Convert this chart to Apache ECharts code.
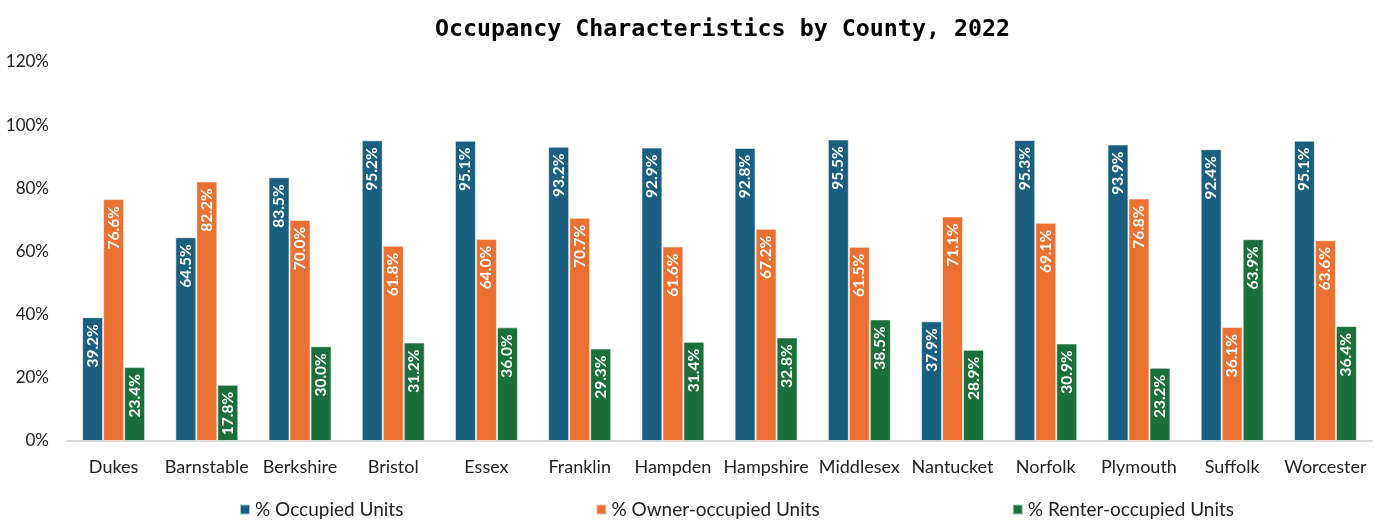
<!DOCTYPE html>
<html>
<head>
<meta charset="utf-8">
<script src="https://cdn.jsdelivr.net/npm/echarts@6/dist/echarts.min.js"></script>
<style>
  html, body { margin: 0; padding: 0; background: #fff; }
  #chart { width: 1382px; height: 521px; }
</style>
</head>
<body>
<div id="chart"></div>
<script>
// counties, in chart order
const counties = ['Dukes', 'Barnstable', 'Berkshire', 'Bristol', 'Essex', 'Franklin', 'Hampden',
  'Hampshire', 'Middlesex', 'Nantucket', 'Norfolk', 'Plymouth', 'Suffolk', 'Worcester'];
// percentages
const occupied = [39.2, 64.5, 83.5, 95.2, 95.1, 93.2, 92.9, 92.8, 95.5, 37.9, 95.3, 93.9, 92.4, 95.1];
const ownerOcc = [76.6, 82.2, 70.0, 61.8, 64.0, 70.7, 61.6, 67.2, 61.5, 71.1, 69.1, 76.8, 36.1, 63.6];
const renterOcc = [23.4, 17.8, 30.0, 31.2, 36.0, 29.3, 31.4, 32.8, 38.5, 28.9, 30.9, 23.2, 63.9, 36.4];
const seriesNames = ['% Occupied Units', '% Owner-occupied Units', '% Renter-occupied Units'];

const labelFont = 'Lato, "Open Sans", sans-serif';

function barSeries(name, data, color) {
  return {
    name: name,
    type: 'bar',
    data: data,
    barWidth: 21,
    barGap: '0%',
    itemStyle: { color: color, borderColor: 'rgba(255,255,255,0.6)', borderWidth: 1 },
    label: {
      show: true,
      position: 'insideTop',
      rotate: 90,
      align: 'right',
      verticalAlign: 'middle',
      distance: 7,
      color: '#fff',
      fontFamily: labelFont,
      fontWeight: 'bold',
      fontSize: 15.5,
      formatter: p => p.value.toFixed(1) + '%'
    }
  };
}

const chart = echarts.init(document.getElementById('chart'));
chart.setOption({
  animation: false,
  title: {
    text: 'Occupancy Characteristics by County, 2022',
    left: 430,
    top: 13,
    textStyle: {
      fontFamily: '"DejaVu Sans Mono", "Liberation Mono", monospace',
      fontWeight: 'bold',
      fontSize: 23.3,
      color: '#000'
    }
  },
  legend: {
    data: seriesNames,
    top: 495,
    left: 234,
    itemGap: 192,
    itemWidth: 10,
    itemHeight: 10,
    icon: 'rect',
    textStyle: { fontFamily: labelFont, fontSize: 19, color: '#222' }
  },
  grid: { left: 67, right: 10, top: 62, bottom: 80 },
  xAxis: {
    type: 'category',
    data: counties,
    axisLine: { lineStyle: { color: '#d9d9d9', width: 2 } },
    axisTick: { show: false },
    axisLabel: { interval: 0, fontFamily: labelFont, fontSize: 18, color: '#222', margin: 17 }
  },
  yAxis: {
    type: 'value',
    min: 0,
    max: 120,
    interval: 20,
    splitLine: { show: false },
    axisLine: { show: false },
    axisLabel: { formatter: '{value}%', fontFamily: labelFont, fontSize: 17, color: '#222', margin: 18 }
  },
  series: [
    barSeries(seriesNames[0], occupied, '#1b5f80'),
    barSeries(seriesNames[1], ownerOcc, '#eb7132'),
    barSeries(seriesNames[2], renterOcc, '#1b6f3a')
  ]
});
</script>
</body>
</html>
